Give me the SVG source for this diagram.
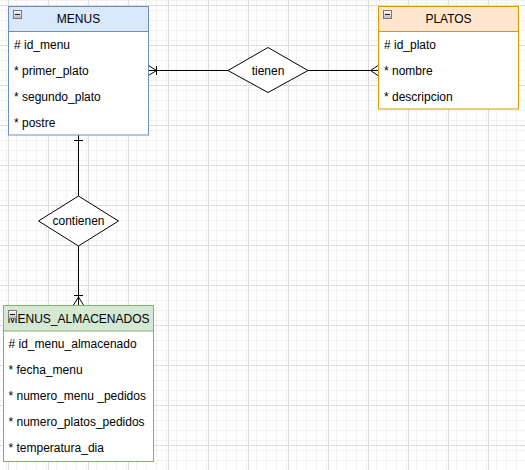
<svg xmlns="http://www.w3.org/2000/svg" width="525" height="470" viewBox="0 0 525 470">
  <defs>
    <pattern id="minor" width="10" height="10" patternUnits="userSpaceOnUse" x="8" y="5">
      <path d="M0 0.5 H10 M0.5 0 V10" fill="none" stroke="#f2f2f2" stroke-width="1"/>
    </pattern>
    <pattern id="major" width="40" height="40" patternUnits="userSpaceOnUse" x="8" y="5">
      <rect width="40" height="40" fill="url(#minor)"/>
      <path d="M0 0.5 H40 M0.5 0 V40" fill="none" stroke="#dcdcdc" stroke-width="1"/>
    </pattern>
    <linearGradient id="btn" x1="0" y1="0" x2="0" y2="1">
      <stop offset="0" stop-color="#ffffff"/>
      <stop offset="1" stop-color="#b8b8b8"/>
    </linearGradient>
    <g id="collapse">
      <rect x="0.5" y="0.5" width="8" height="8" fill="url(#btn)" stroke="#7a7a7a"/>
      <path d="M2 4.5 H7" stroke="#222" stroke-width="1"/>
    </g>
  </defs>
  <style>
    text { font-family: "Liberation Sans", Arial, sans-serif; font-size: 12px; fill: #000; }
    .title { text-anchor: middle; }
    .rel { text-anchor: middle; }
    .edge { fill: none; stroke: #000; stroke-width: 1; }
    .diamond { fill: #fff; stroke: #000; stroke-width: 1; }
    .body { fill: #fff; }
  </style>

  <rect width="525" height="470" fill="#fff"/>
  <rect width="525" height="470" fill="url(#major)"/>

  <g id="connectors">
    <!-- MENUS ↔ tienen ↔ PLATOS -->
    <path class="edge" d="M148.5 70.5 H228"/>
    <path class="edge" d="M148.5 65.5 L156.5 70.5 L148.5 75.5"/>
    <path class="edge" d="M156.5 66 V75"/>
    <path class="edge" d="M308 70.5 H378"/>
    <path class="edge" d="M378 65.5 L370.5 70.5 L378 75.5"/>
    <!-- MENUS ↔ contienen ↔ MENUS_ALMACENADOS -->
    <path class="edge" d="M78.5 135 V196"/>
    <path class="edge" d="M74 140.5 H83"/>
    <path class="edge" d="M78.5 246 V305"/>
    <path class="edge" d="M74 295.5 H83"/>
    <path class="edge" d="M73.5 305 L78.5 297 L83.5 305"/>
  </g>

  <g id="rel-tienen">
    <polygon class="diamond" points="268,47.5 308,70.5 268,92.5 228,70.5"/>
    <text class="rel" x="268" y="74.5">tienen</text>
  </g>

  <g id="rel-contienen">
    <polygon class="diamond" points="78.5,196 118.5,221 78.5,246 38.5,221"/>
    <text class="rel" x="78.5" y="225">contienen</text>
  </g>

  <g id="menus">
    <rect class="body" x="8.5" y="6.5" width="140" height="128.5" stroke="#6c8ebf"/>
    <rect x="8.5" y="6.5" width="140" height="25" fill="#dae8fc" stroke="#6c8ebf"/>
    <use href="#collapse" x="13" y="10"/>
    <text class="title" x="78.5" y="23">MENUS</text>
    <text x="14" y="49">#  id_menu</text>
    <text x="14" y="75">* primer_plato</text>
    <text x="14" y="101">* segundo_plato</text>
    <text x="14" y="127">* postre</text>
  </g>

  <g id="platos">
    <rect class="body" x="378.5" y="6.5" width="140" height="102.5" stroke="#d79b00"/>
    <rect x="378.5" y="6.5" width="140" height="25" fill="#ffe6cc" stroke="#d79b00"/>
    <use href="#collapse" x="383" y="10"/>
    <text class="title" x="448.5" y="23">PLATOS</text>
    <text x="384" y="49">#  id_plato</text>
    <text x="384" y="75">* nombre</text>
    <text x="384" y="101">* descripcion</text>
  </g>

  <g id="menus-almacenados">
    <rect class="body" x="3.5" y="305.5" width="150" height="156" stroke="#82b366"/>
    <rect x="3.5" y="305.5" width="150" height="25.5" fill="#d5e8d4" stroke="#82b366"/>
    <text class="title" x="78.5" y="323">MENUS_ALMACENADOS</text>
    <use href="#collapse" x="8" y="310"/>
    <text x="8.5" y="348">#  id_menu_almacenado</text>
    <text x="8.5" y="374">* fecha_menu</text>
    <text x="8.5" y="400">* numero_menu _pedidos</text>
    <text x="8.5" y="426">* numero_platos_pedidos</text>
    <text x="8.5" y="452">* temperatura_dia</text>
  </g>
</svg>
